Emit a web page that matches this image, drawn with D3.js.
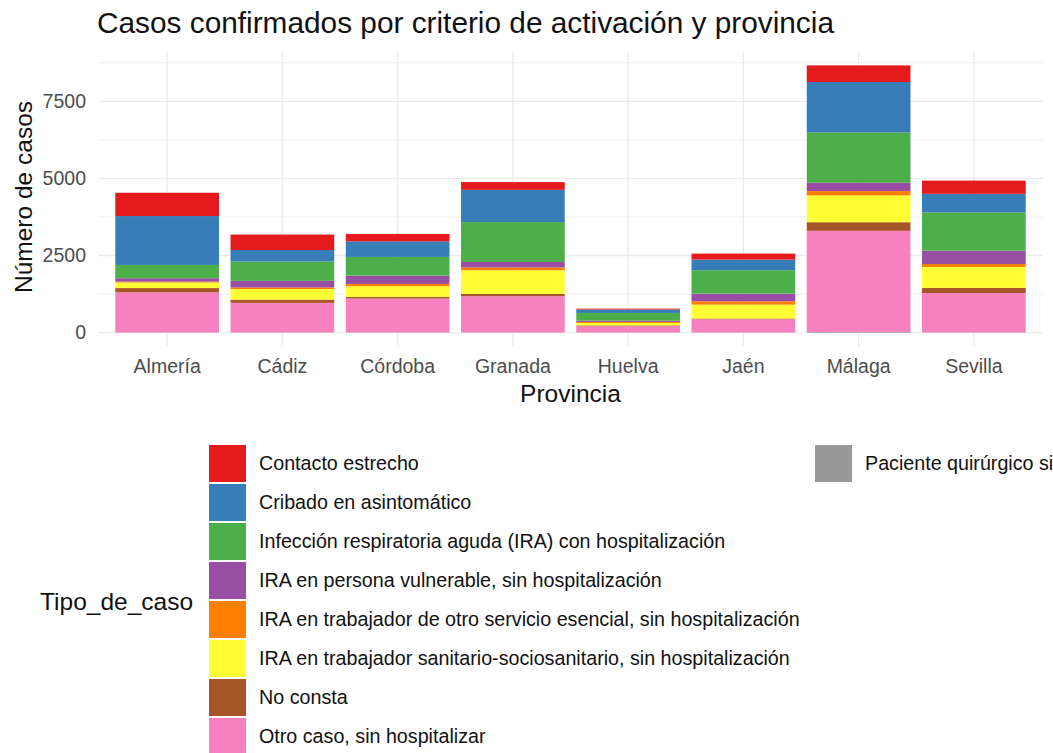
<!DOCTYPE html>
<html lang="es">
<head>
<meta charset="utf-8">
<title>Casos confirmados</title>
<script src="https://cdn.jsdelivr.net/npm/d3@7"></script>
<style>
  body { margin: 0; background: #fff; overflow: hidden; }
  svg { font-family: "Liberation Sans", Arial, sans-serif; display: block; }
  .grid line { stroke: #ebebeb; }
  .tick text { fill: #4d4d4d; }
</style>
</head>
<body>
<script>
// provincias
var provincias = ["Almería", "Cádiz", "Córdoba", "Granada", "Huelva", "Jaén", "Málaga", "Sevilla"];

// tipos de caso (orden de la leyenda, el primero queda arriba de la pila)
var tipos = [
  "Contacto estrecho",
  "Cribado en asintomático",
  "Infección respiratoria aguda (IRA) con hospitalización",
  "IRA en persona vulnerable, sin hospitalización",
  "IRA en trabajador de otro servicio esencial, sin hospitalización",
  "IRA en trabajador sanitario-sociosanitario, sin hospitalización",
  "No consta",
  "Otro caso, sin hospitalizar",
  "Paciente quirúrgico sin hospitalización"
];

var colores = ["#E41A1C", "#377EB8", "#4DAF4A", "#984EA3", "#FF7F00", "#FFFF33", "#A65628", "#F781BF", "#999999"];

// casos por tipo, una cifra por provincia
var contacto   = [755, 500, 240, 250, 30, 195, 540, 430];
var cribado    = [1585, 375, 505, 1045, 110, 345, 1635, 605];
var iraHosp    = [430, 625, 605, 1295, 250, 755, 1630, 1240];
var iraVuln    = [110, 215, 270, 175, 40, 250, 270, 430];
var iraEsenc   = [30, 50, 75, 95, 35, 110, 140, 95];
var iraSanit   = [180, 345, 345, 765, 80, 450, 870, 680];
var noConsta   = [140, 105, 55, 75, 30, 25, 280, 165];
var otroCaso   = [1300, 960, 1100, 1175, 200, 430, 3280, 1280];
var quirurgico = [5, 5, 5, 5, 3, 3, 20, 5];

var series = [contacto, cribado, iraHosp, iraVuln, iraEsenc, iraSanit, noConsta, otroCaso, quirurgico];

var yTicks = [0, 2500, 5000, 7500];

var width = 1053, height = 753;

var rows = provincias.map(function (p, i) {
  var r = { provincia: p };
  tipos.forEach(function (t, k) { r[t] = series[k][i]; });
  return r;
});

// pila: el ultimo tipo abajo
var stack = d3.stack().keys(tipos.slice().reverse())(rows);

var svg = d3.select("body").append("svg")
  .attr("width", width)
  .attr("height", height);

var panel = { left: 98, right: 1043, top: 52, bottom: 346 };

var x = d3.scaleBand()
  .domain(provincias)
  .range([panel.left, panel.right])
  .paddingInner(0.1)
  .paddingOuter(0.15);

var maxTotal = d3.max(stack[stack.length - 1], function (d) { return d[1]; });
var yPad = maxTotal * 0.05;
var y = d3.scaleLinear()
  .domain([-yPad, maxTotal + yPad])
  .range([panel.bottom, panel.top]);

var color = d3.scaleOrdinal().domain(tipos).range(colores);

// rejilla
var grid = svg.append("g").attr("class", "grid");
var minor = d3.range(1250, maxTotal + yPad, 2500);
grid.selectAll("line.minor").data(minor).join("line")
  .attr("class", "minor")
  .attr("x1", panel.left).attr("x2", panel.right)
  .attr("y1", function (d) { return y(d); }).attr("y2", function (d) { return y(d); })
  .attr("stroke-width", 0.7);
grid.selectAll("line.majorY").data(yTicks).join("line")
  .attr("class", "majorY")
  .attr("x1", panel.left).attr("x2", panel.right)
  .attr("y1", function (d) { return y(d); }).attr("y2", function (d) { return y(d); })
  .attr("stroke-width", 1.3);
grid.selectAll("line.majorX").data(provincias).join("line")
  .attr("class", "majorX")
  .attr("x1", function (d) { return x(d) + x.bandwidth() / 2; })
  .attr("x2", function (d) { return x(d) + x.bandwidth() / 2; })
  .attr("y1", panel.top).attr("y2", panel.bottom)
  .attr("stroke-width", 1.3);

// barras
svg.append("g")
  .selectAll("g")
  .data(stack)
  .join("g")
  .attr("fill", function (d) { return color(d.key); })
  .selectAll("rect")
  .data(function (d) { return d; })
  .join("rect")
  .attr("x", function (d) { return x(d.data.provincia); })
  .attr("width", x.bandwidth())
  .attr("y", function (d) { return y(d[1]); })
  .attr("height", function (d) { return y(d[0]) - y(d[1]); });

// ejes
var xAxis = svg.append("g")
  .attr("transform", "translate(0," + panel.bottom + ")")
  .call(d3.axisBottom(x).tickSize(0).tickPadding(13));
xAxis.select(".domain").remove();
xAxis.selectAll("text").attr("font-size", 19.5).attr("font-family", null);

var yAxis = svg.append("g")
  .attr("transform", "translate(" + panel.left + ",0)")
  .call(d3.axisLeft(y).tickValues(yTicks).tickFormat(d3.format("d")).tickSize(0).tickPadding(12));
yAxis.select(".domain").remove();
yAxis.selectAll("text").attr("font-size", 19.5).attr("font-family", null);

// titulos
svg.append("text")
  .attr("x", 97).attr("y", 33)
  .attr("font-size", 29.8)
  .attr("fill", "#111")
  .text("Casos confirmados por criterio de activación y provincia");

svg.append("text")
  .attr("x", (panel.left + panel.right) / 2).attr("y", 402)
  .attr("text-anchor", "middle")
  .attr("font-size", 24.5)
  .attr("fill", "#111")
  .text("Provincia");

svg.append("text")
  .attr("transform", "translate(32,197) rotate(-90)")
  .attr("text-anchor", "middle")
  .attr("font-size", 24.5)
  .attr("fill", "#111")
  .text("Número de casos");

// leyenda
var legend = svg.append("g");
legend.append("text")
  .attr("x", 40).attr("y", 610)
  .attr("font-size", 24.5)
  .attr("fill", "#111")
  .text("Tipo_de_caso");

var items = legend.selectAll("g.item")
  .data(tipos)
  .join("g")
  .attr("class", "item")
  .attr("transform", function (d, i) {
    var col = i < 8 ? 0 : 1;
    var row = i < 8 ? i : i - 8;
    return "translate(" + (col ? 815 : 209) + "," + (445 + row * 39) + ")";
  });

items.append("rect")
  .attr("width", 37).attr("height", 37)
  .attr("fill", function (d) { return color(d); });

items.append("text")
  .attr("x", 50).attr("y", 18.5).attr("dy", "0.35em")
  .attr("font-size", 19.7)
  .attr("fill", "#111")
  .text(function (d) { return d; });
</script>
</body>
</html>
